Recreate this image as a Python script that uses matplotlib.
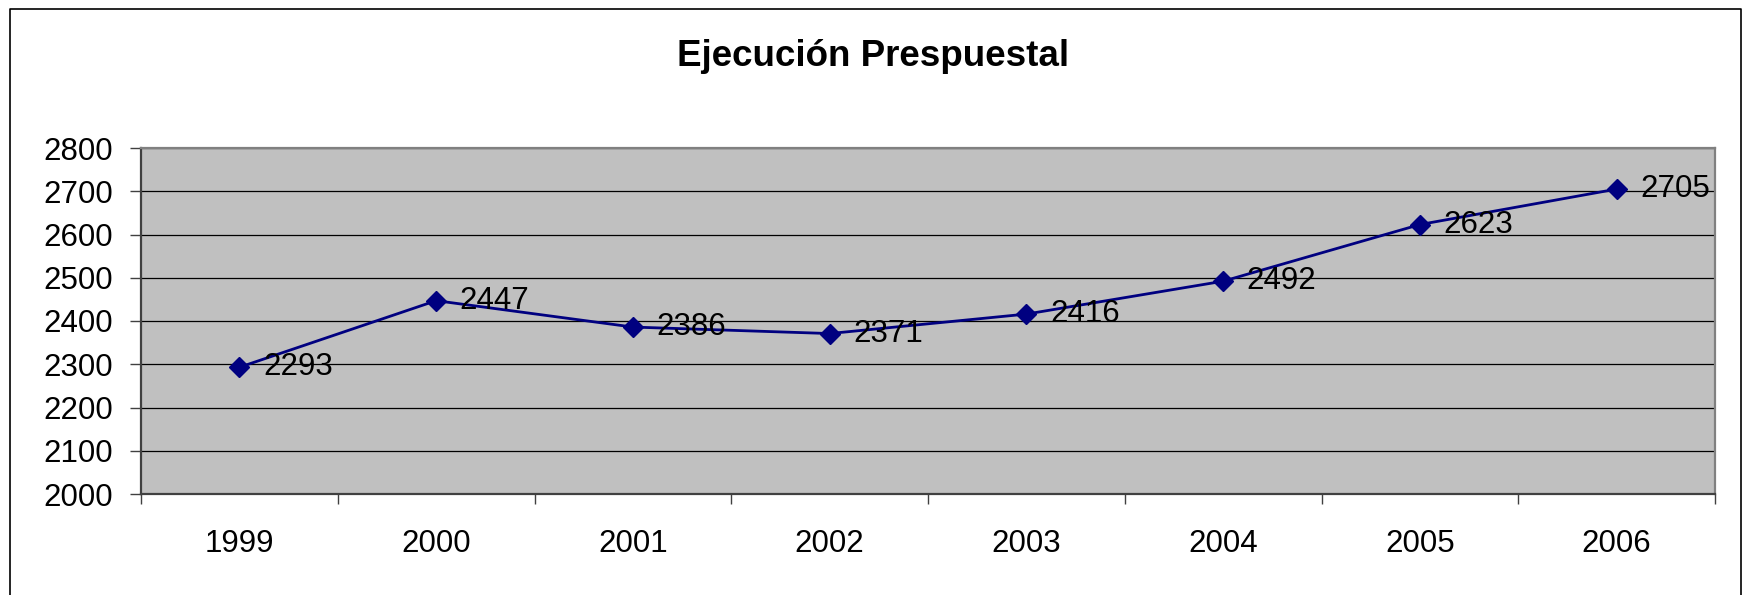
import matplotlib
matplotlib.use('Agg')
import matplotlib.pyplot as plt
from matplotlib.lines import Line2D

# ── data ────────────────────────────────────────────────
years = ['1999', '2000', '2001', '2002', '2003', '2004', '2005', '2006']
values = [2293, 2447, 2386, 2371, 2416, 2492, 2623, 2705]
y_ticks = [2000, 2100, 2200, 2300, 2400, 2500, 2600, 2700, 2800]
title = 'Ejecución Prespuestal'

plt.rcParams['font.family'] = ['Liberation Sans', 'DejaVu Sans']

W, H = 1746, 595
fig = plt.figure(figsize=(W / 100, H / 100), dpi=100)

# outer chart border (left, top, right; runs off the bottom)
fx = lambda px: px / W
fy = lambda py: 1 - py / H
fig.add_artist(Line2D([fx(9.5), fx(9.5), fx(1741), fx(1741)],
                      [fy(600), fy(8.5), fy(8.5), fy(600)],
                      transform=fig.transFigure, color='black', lw=1.2))

ax = fig.add_axes([141 / W, (H - 494) / H, 1574 / W, 346 / H])
ax.set_facecolor('#C0C0C0')

x = list(range(len(years)))
ax.plot(x, values, color='#000080', lw=2.0, marker='D', ms=10,
        mfc='#000080', mec='#000080', zorder=3)

for xi, v in zip(x, values):
    ax.annotate(str(v), (xi, v), xytext=(17, 0), textcoords='offset points',
                ha='left', va='center', fontsize=22.5, color='black', zorder=4)

ax.set_xlim(-0.5, len(years) - 0.5)
ax.set_ylim(y_ticks[0], y_ticks[-1])

# categories sit between tick marks (Excel style)
ax.set_xticks([i - 0.5 for i in range(len(years) + 1)])
ax.set_xticklabels([])
ax.set_xticks(x, minor=True)
ax.set_xticklabels(years, minor=True, fontsize=22.5)
ax.tick_params(axis='x', which='major', length=7.5, width=1.0,
               color='#404040', direction='out')
ax.tick_params(axis='x', which='minor', length=0, pad=25.5)

ax.set_yticks(y_ticks)
ax.set_yticklabels([str(t) for t in y_ticks], fontsize=22.5)
ax.tick_params(axis='y', length=8, width=1.0, color='#404040', pad=12)

ax.grid(axis='y', which='major', color='black', lw=0.9)
ax.set_axisbelow(True)

for side in ['left', 'bottom']:
    ax.spines[side].set_color('#404040')
    ax.spines[side].set_linewidth(1.6)
for side in ['top', 'right']:
    ax.spines[side].set_color('#808080')
    ax.spines[side].set_linewidth(1.6)

fig.text(0.5, fy(66), title, ha='center', va='baseline',
         fontsize=26.5, fontweight='bold')

fig.savefig('out.png', dpi=100)
